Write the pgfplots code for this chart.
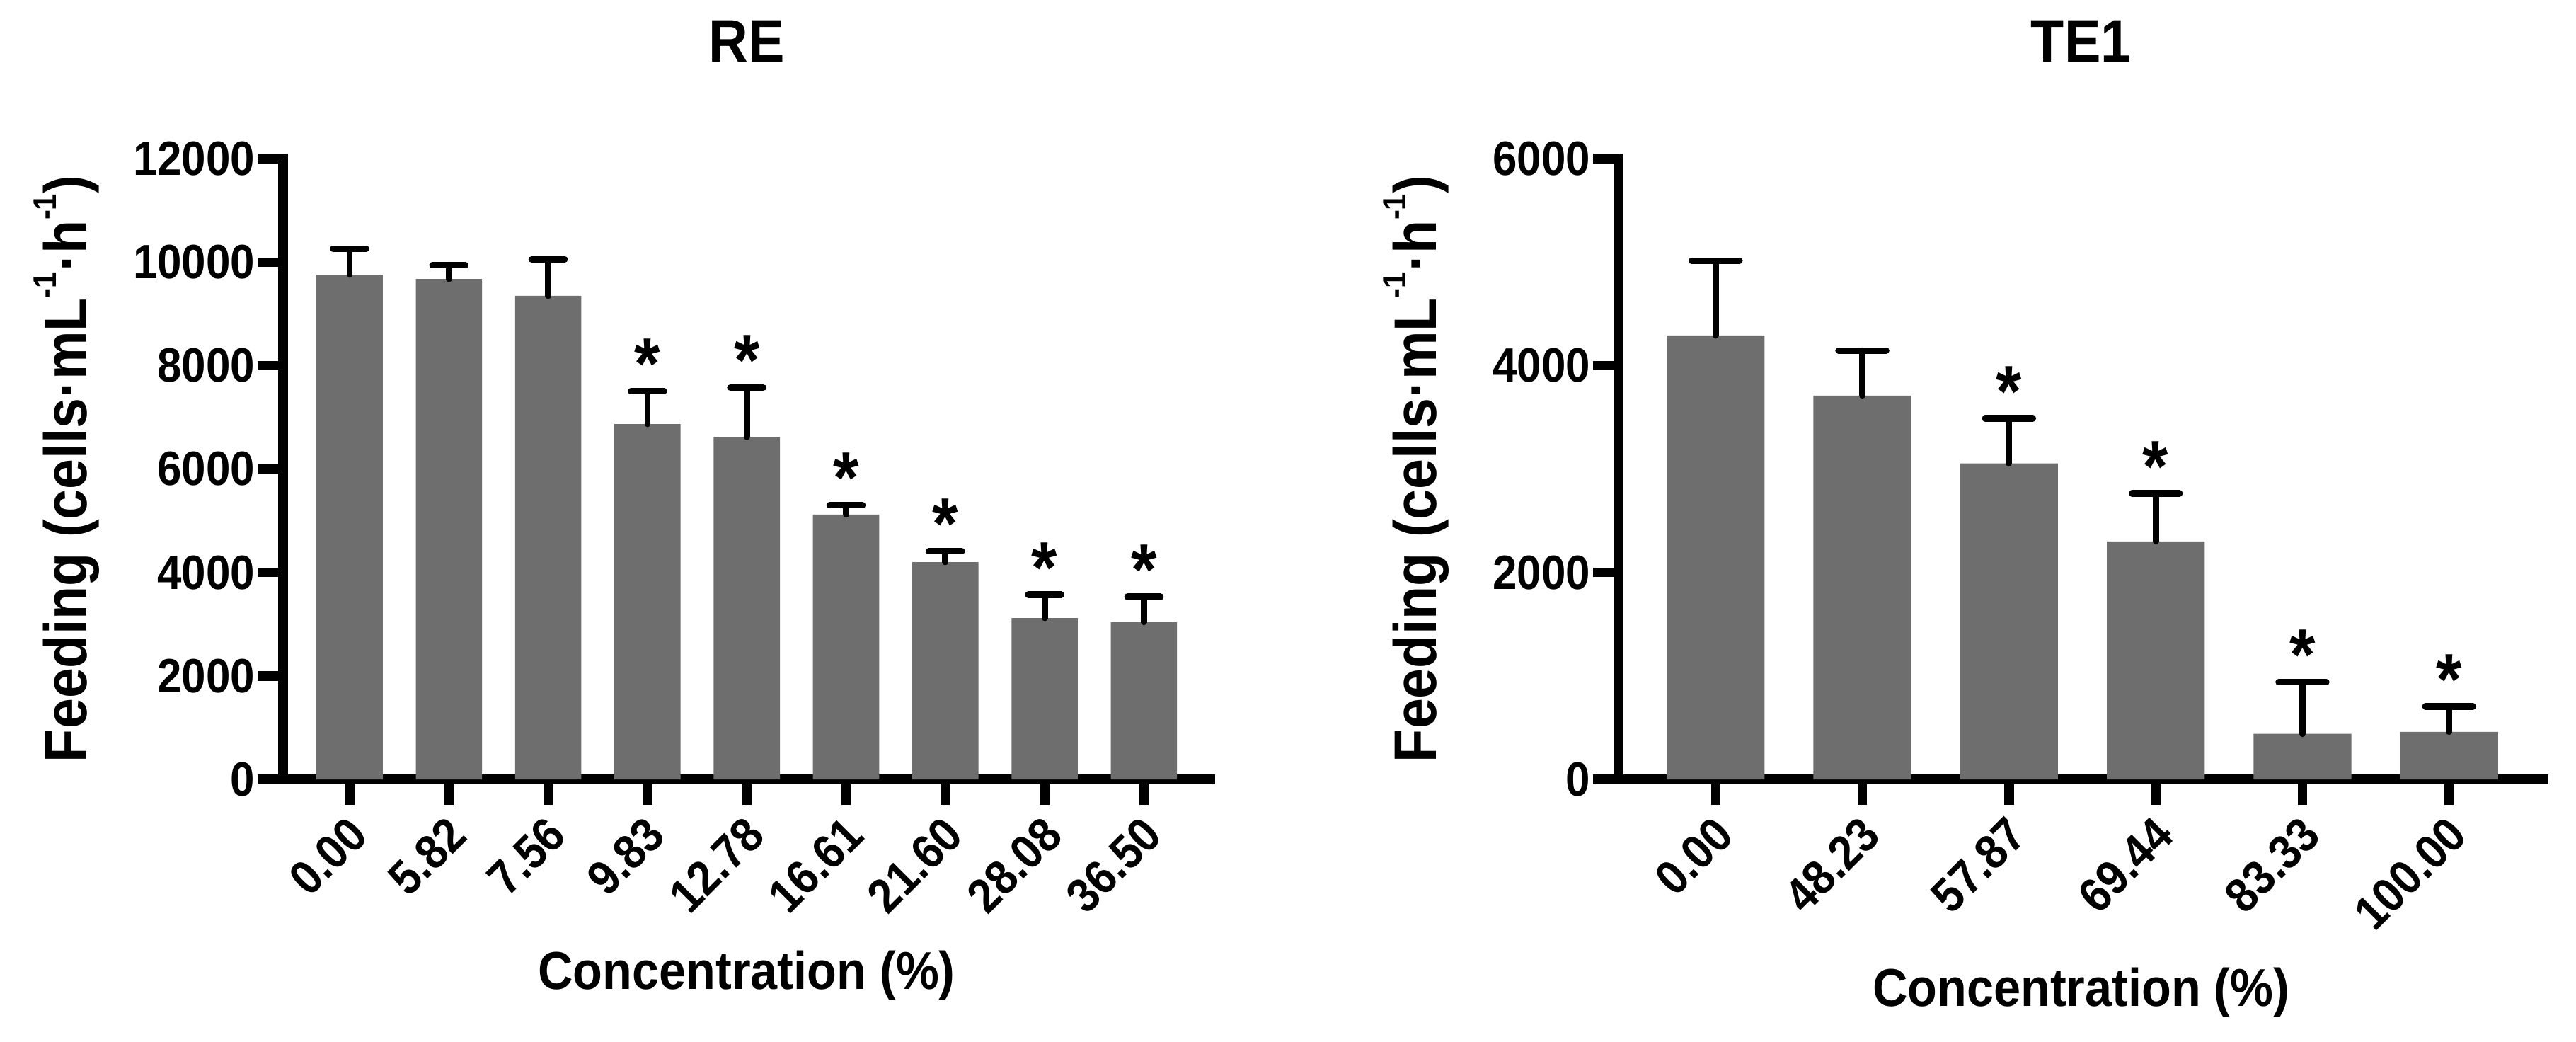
\documentclass[border=0pt]{standalone}
\usepackage{pgfplots}
\pgfplotsset{compat=1.18}
\usepackage{fontspec}
\setmainfont{Liberation Sans}[FakeStretch=0.91]
\definecolor{barg}{RGB}{110,110,110}
\newcommand{\sups}[1]{\raisebox{10.75pt}{\fontsize{11.5}{12}\selectfont #1}}
\pgfplotsset{
 panel/.style={
  scale only axis, height=219.25pt, anchor=south west,
  axis x line=bottom, axis y line=left,
  axis line style={-, line width=3.33pt, line cap=rect, black},
  tick style={line width=3.33pt, black, line cap=butt},
  tick align=outside, major tick length=9pt,
  minor tick num=0,
  ymin=0, enlargelimits=false, clip=false,
  /pgf/number format/assume math mode=true,
  /pgf/number format/1000 sep={},
  scaled y ticks=false,
  tick label style={font=\bfseries\fontsize{17}{20}\selectfont},
  yticklabel style={inner sep=0pt, xshift=-0.75pt},
  xticklabel style={yshift=-3pt, xshift=-1.3pt, rotate=45, anchor=north east, inner sep=0pt},
  title style={font=\bfseries\fontsize{21.2}{25}\selectfont, at={(axis description cs:0.5,1)}, anchor=base, yshift=28.1pt, inner sep=0pt},
  xlabel style={font=\bfseries\fontsize{18.8}{22}\selectfont, at={(axis description cs:0.5,0)}, anchor=base, inner sep=0pt},
  ylabel style={font=\bfseries\fontsize{21.2}{25}\selectfont, anchor=base, inner sep=0pt},
  xlabel={Concentration (\%)},
  ylabel={Feeding (cells·mL\sups{-1}·h\sups{-1})},
 },
 bars/.style={ybar, bar width=0.667, fill=barg, draw=none,
   error bars/.cd, y dir=plus, y explicit,
   error bar style={line width=2.2pt, black, line cap=round},
   error mark options={rotate=90, line width=2.33pt, black, line cap=round, mark size=#1}},
 stars/.style={draw=none, mark=none, nodes near coords={*},
   nodes near coords style={anchor=base, yshift=0.7pt, font=\bfseries\fontsize{25.7}{28}\selectfont, text=black, inner sep=0pt}},
}
\begin{document}
\begin{tikzpicture}
\path[use as bounding box] (0,0) rectangle (910pt,-367.75pt);
% ---------------- RE ----------------
\begin{axis}[panel,
  at={(100pt,-275.25pt)}, width=327.6pt,
  xmin=-0.67, xmax=8.67, ymax=12000,
  ytick={0,2000,4000,6000,8000,10000,12000},
  xtick={0,1,2,3,4,5,6,7,8},
  xticklabels={0.00,5.82,7.56,9.83,12.78,16.61,21.60,28.08,36.50},
  title={RE},
  xlabel style={yshift=-74pt},
  ylabel style={at={(axis description cs:-0.2114,0.5)}},
]
\addplot[bars=5.8pt] coordinates {
 (0,9756) +- (0,498)
 (1,9674) +- (0,270)
 (2,9346) +- (0,707)
 (3,6869) +- (0,639)
 (4,6620) +- (0,950)
 (5,5120) +- (0,180)
 (6,4200) +- (0,210)
 (7,3120) +- (0,450)
 (8,3040) +- (0,490)
};
\addplot[stars] coordinates {(3,7508) (4,7570) (5,5300) (6,4410) (7,3570) (8,3530)};
\end{axis}
% ---------------- TE1 ----------------
\begin{axis}[panel,
  at={(571.75pt,-275.25pt)}, width=326.86pt,
  xmin=-0.662, xmax=5.645, ymax=6000,
  ytick={0,2000,4000,6000},
  xtick={0,1,2,3,4,5},
  xticklabels={0.00,48.23,57.87,69.44,83.33,100.00},
  title={TE1},
  xlabel style={yshift=-80.2pt},
  ylabel style={at={(axis description cs:-0.1973,0.5)}},
]
\addplot[bars=8.4pt] coordinates {
 (0,4290) +- (0,720)
 (1,3710) +- (0,435)
 (2,3055) +- (0,435)
 (3,2300) +- (0,465)
 (4,440) +- (0,500)
 (5,460) +- (0,245)
};
\addplot[stars] coordinates {(2,3490) (3,2765) (4,940) (5,705)};
\end{axis}
\end{tikzpicture}
\end{document}
